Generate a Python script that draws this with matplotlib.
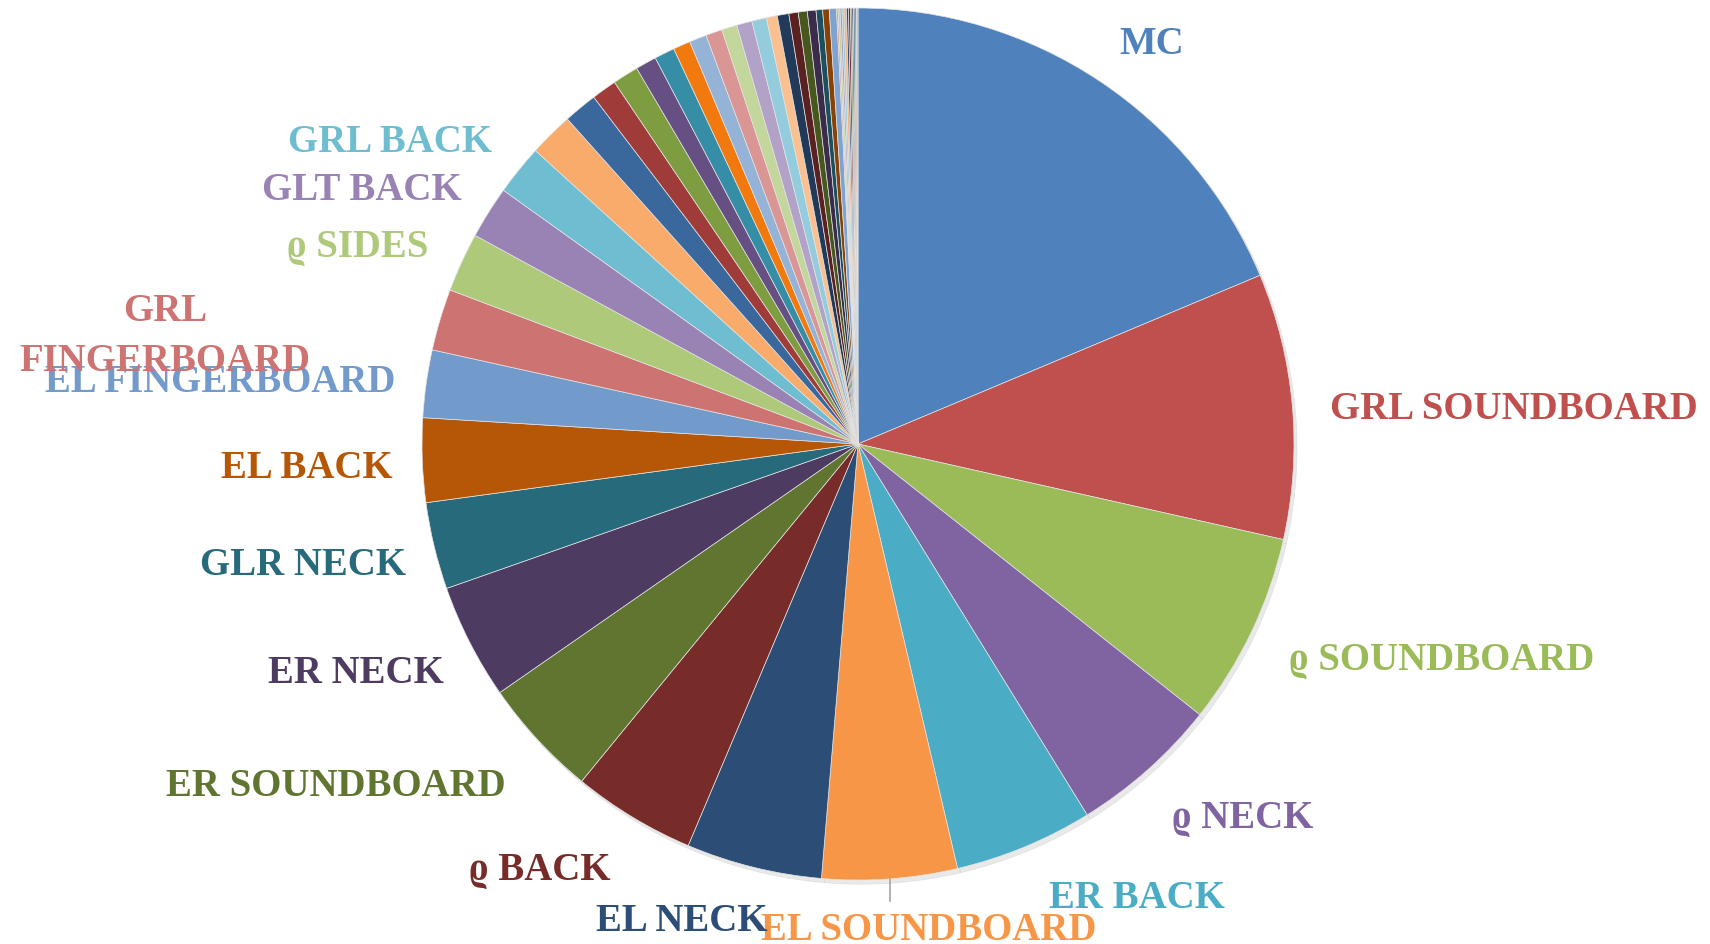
import matplotlib
matplotlib.use("Agg")
import matplotlib.pyplot as plt
from matplotlib.lines import Line2D
import numpy as np

# ---- data (slice sizes in degrees of the full circle) ----
labels = ["MC", "GRL SOUNDBOARD", "ϱ SOUNDBOARD", "ϱ NECK", "ER BACK",
          "EL SOUNDBOARD", "EL NECK", "ϱ BACK", "ER SOUNDBOARD", "ER NECK",
          "GLR NECK", "EL BACK", "EL FINGERBOARD", "GRL\nFINGERBOARD",
          "ϱ SIDES", "GLT BACK", "GRL BACK"] + [""] * 32
values = [67.2, 35.4, 25.7, 19.9, 18.5,
          18.0, 18.1, 16.4, 15.9, 15.4,
          11.6, 11.2, 9.0, 8.2,
          7.9, 7.0, 6.7,
          5.9, 4.5, 3.35, 3.45, 2.8, 2.7,
          2.3, 2.3, 2.2, 2.05, 2.05, 1.95,
          1.45, 1.55, 1.25, 1.2, 1.15, 0.87,
          0.87, 0.96, 0.2, 0.26, 0.26, 0.26,
          0.33, 0.26, 0.26, 0.2, 0.2, 0.2,
          0.2, 0.2]

# ---- styling ----
palette = ['#4F81BD', '#C0504D', '#9BBB59', '#8064A2', '#4BACC6', '#F79646',
           '#2C4D75', '#772C2A', '#5F7530', '#4D3B62', '#276A7C', '#B65708',
           '#729ACA', '#CD7371', '#AFC97A', '#9983B5', '#6FBDD1', '#F9AB6B',
           '#3A679C', '#9F3B38', '#7E9D40', '#664F83', '#358EA6', '#F2790D',
           '#95B3D7', '#D99694', '#C3D69B', '#B2A2C7', '#93CDDD', '#FAC090',
           '#213A59', '#5A2120', '#47581F', '#3A2C4A', '#1D505E', '#884107',
           '#7EA3D1', '#DE8E8C', '#BBD68F', '#A99BC8', '#86CADB', '#F7B27E',
           '#2C4D75', '#772C2A', '#5F7530', '#4D3B62', '#276A7C', '#B65708',
           '#A8B8CC']
colors = palette[:len(values)]

# label anchor positions in figure pixels (center x, baseline y from top)
label_pos = [(1152, 54), (1388 * 1.0906, 419), (1442, 670), (1243, 828), (1137, 908),
             (929, 940), (682, 931), (540, 880), (336, 796), (356, 683),
             (303, 575), (307, 478), (220, 392), (165, 321),
             (358, 257), (362, 200), (390, 152)]

W, H = 1710, 945
cx, cy, R = 858, 445, 436

plt.rcParams['font.family'] = ['Liberation Serif', 'DejaVu Serif']

fig = plt.figure(figsize=(W / 100, H / 100), dpi=100)
ax = fig.add_axes([(cx - R) / W, (H - cy - R) / H, 2 * R / W, 2 * R / H])

wedges, _ = ax.pie(values, colors=colors, startangle=90, counterclock=False,
                   radius=1.0,
                   wedgeprops=dict(edgecolor='#e4e4e4', linewidth=0.5),
                   shadow={'ox': 0.005, 'oy': -0.007, 'facecolor': '#c8c8c8',
                           'edgecolor': '#c8c8c8', 'alpha': 0.4})
ax.set_xlim(-1.0, 1.0)
ax.set_ylim(-1.0, 1.0)
ax.axis('off')

fs = 28
for lab, col, pos in zip(labels, colors, label_pos):
    lines = lab.split("\n")
    x, y = pos
    for i, line in enumerate(lines):
        fig.text(x / W, 1 - (y + 50 * i) / H, line, color=col, fontsize=fs,
                 fontweight='bold', ha='center', va='baseline')

# leader line for EL SOUNDBOARD (from its wedge mid-angle down to the label)
w = wedges[5]
mid = np.deg2rad((w.theta1 + w.theta2) / 2)
x0 = cx + R * np.cos(mid)
y0 = cy - R * np.sin(mid)
fig.add_artist(Line2D([x0 / W, x0 / W], [1 - y0 / H, 1 - 902 / H],
                      color='#a6a6a6', linewidth=1.2))

fig.savefig("out.png", dpi=100, facecolor='white')
